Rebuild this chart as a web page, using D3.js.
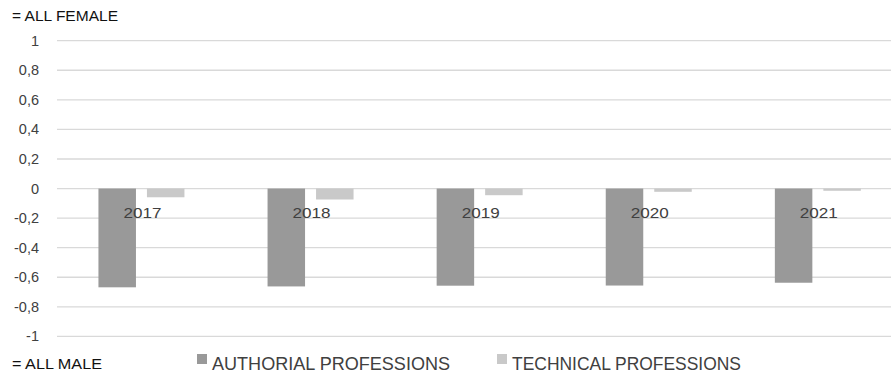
<!DOCTYPE html>
<html>
<head>
<meta charset="utf-8">
<script src="https://cdn.jsdelivr.net/npm/d3@7/dist/d3.min.js"></script>
<style>
  html, body { margin: 0; padding: 0; background: #fff; }
  svg { display: block; font-family: "Liberation Sans", Arial, sans-serif; }
</style>
</head>
<body>
<svg id="chart" width="891" height="373"></svg>
<script>
// Gender balance index per year: -1 = all male, +1 = all female
const years = ["2017", "2018", "2019", "2020", "2021"];
const seriesNames = ["AUTHORIAL PROFESSIONS", "TECHNICAL PROFESSIONS"];
const authorial = [-0.668, -0.662, -0.657, -0.656, -0.637];
const technical = [-0.059, -0.074, -0.045, -0.022, -0.015];
const yTicks = [1, 0.8, 0.6, 0.4, 0.2, 0, -0.2, -0.4, -0.6, -0.8, -1];
const colors = ["#999999", "#c9c9c9"];

const svg = d3.select("#chart");

const x = d3.scaleBand().domain(years).range([56.9, 902.4]).paddingInner(0).paddingOuter(0);
const y = d3.scaleLinear().domain([-1, 1]).range([336.4, 40.7]);
const fmt = v => String(v).replace(".", ",");

// horizontal gridlines
svg.append("g")
  .selectAll("line")
  .data(yTicks)
  .join("line")
  .attr("x1", 57).attr("x2", 891)
  .attr("y1", d => y(d)).attr("y2", d => y(d))
  .attr("stroke", "#d9d9d9").attr("stroke-width", 1.3);

// y tick labels
svg.append("g")
  .selectAll("text")
  .data(yTicks)
  .join("text")
  .attr("x", 39).attr("y", d => y(d) + 5)
  .attr("text-anchor", "end")
  .attr("font-size", 14.5)
  .attr("fill", "#404040")
  .text(fmt);

// bars
const barW = 37.5, gap = 11;
const data = years.map((yr, i) => ({ yr, vals: [authorial[i], technical[i]] }));
const groups = svg.append("g").selectAll("g")
  .data(data).join("g")
  .attr("transform", d => `translate(${x(d.yr) + x.bandwidth() / 2},0)`);

groups.selectAll("rect")
  .data(d => d.vals.map((v, k) => ({ v, k })))
  .join("rect")
  .attr("x", d => d.k === 0 ? -(barW + gap / 2) : gap / 2)
  .attr("width", barW)
  .attr("y", d => Math.min(y(0), y(d.v)))
  .attr("height", d => Math.abs(y(d.v) - y(0)))
  .attr("fill", d => colors[d.k]);

// category labels sitting just under the zero line
svg.append("g").selectAll("text")
  .data(years).join("text")
  .attr("x", d => x(d) + x.bandwidth() / 2 + 1)
  .attr("y", y(0) + 29)
  .attr("text-anchor", "middle")
  .attr("font-size", 15)
  .attr("textLength", 38)
  .attr("lengthAdjust", "spacingAndGlyphs")
  .attr("fill", "#404040")
  .text(d => d);

// scale end annotations
svg.append("text")
  .attr("x", 12).attr("y", 21)
  .attr("font-size", 15)
  .attr("textLength", 106).attr("lengthAdjust", "spacingAndGlyphs")
  .attr("fill", "#111")
  .text("= ALL FEMALE");

svg.append("text")
  .attr("x", 12).attr("y", 369)
  .attr("font-size", 15)
  .attr("textLength", 90).attr("lengthAdjust", "spacingAndGlyphs")
  .attr("fill", "#111")
  .text("= ALL MALE");

// legend
const legendX = [197, 497];
const textLen = [238, 229];
const legend = svg.append("g").selectAll("g")
  .data(seriesNames).join("g")
  .attr("transform", (d, i) => `translate(${legendX[i]},0)`);
legend.append("rect")
  .attr("x", 0).attr("y", 354).attr("width", 10).attr("height", 10)
  .attr("fill", (d, i) => colors[i]);
legend.append("text")
  .attr("x", 15).attr("y", 370)
  .attr("font-size", 18)
  .attr("textLength", (d, i) => textLen[i]).attr("lengthAdjust", "spacingAndGlyphs")
  .attr("fill", "#404040")
  .text(d => d);
</script>
</body>
</html>
